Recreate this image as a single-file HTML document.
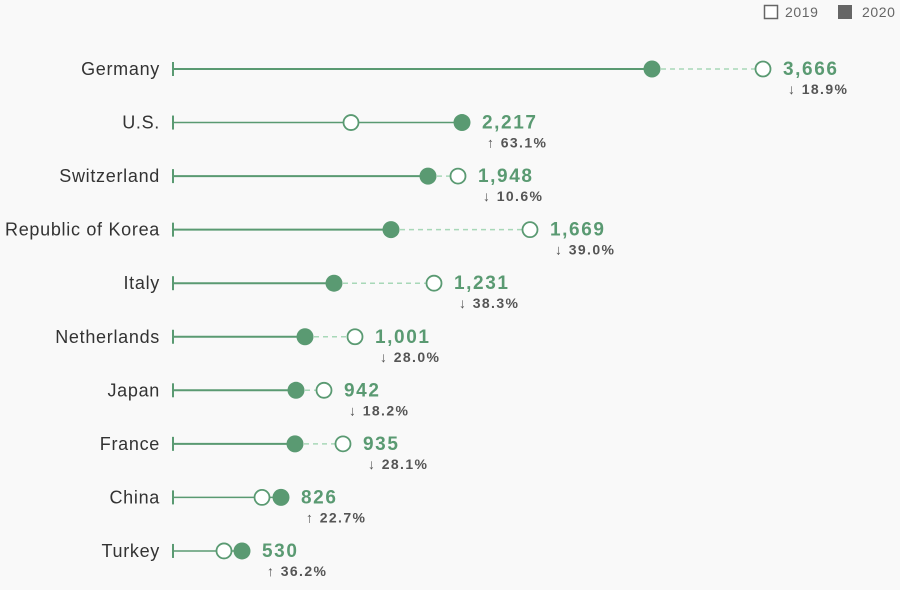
<!DOCTYPE html>
<html><head><meta charset="utf-8"><style>
html,body{margin:0;padding:0;background:#f9f9f9}
text{font-family:"Liberation Sans",Arial,sans-serif}
</style></head><body>
<svg width="900" height="585" viewBox="0 0 900 585" xmlns="http://www.w3.org/2000/svg">
<rect width="900" height="585" fill="#f9f9f9"/>
<rect x="764.5" y="5.5" width="13" height="13" fill="#fff" stroke="#666" stroke-width="1.5"/>
<text x="785" y="17" font-size="14" fill="#666" letter-spacing="0.6">2019</text>
<rect x="838" y="5" width="14" height="14" fill="#666"/>
<text x="862" y="17" font-size="14" fill="#666" letter-spacing="0.6">2020</text>
<g id="rows"></g>
</svg>
<script>
var d=[["Germany",652,763,"3,666","↓ 18.9%"],["U.S.",462,351,"2,217","↑ 63.1%"],["Switzerland",428,458,"1,948","↓ 10.6%"],["Republic of Korea",391,530,"1,669","↓ 39.0%"],["Italy",334,434,"1,231","↓ 38.3%"],["Netherlands",305,355,"1,001","↓ 28.0%"],["Japan",296,324,"942","↓ 18.2%"],["France",295,343,"935","↓ 28.1%"],["China",281,262,"826","↑ 22.7%"],["Turkey",242,224,"530","↑ 36.2%"]];
var g=document.getElementById('rows'),s='';
d.forEach(function(r,i){
var y=69+i*53.55,f=r[1],o=r[2],mx=Math.max(f,o);
s+='<text x="160" y="'+(y+6)+'" font-size="18" fill="#333" text-anchor="end" letter-spacing="0.7">'+r[0]+'</text>';
s+='<line x1="173" y1="'+(y-7)+'" x2="173" y2="'+(y+7)+'" stroke="#5a9a72" stroke-width="2"/>';
s+='<line x1="173" y1="'+y+'" x2="'+f+'" y2="'+y+'" stroke="#5a9a72" stroke-width="'+(o>f?2:1.5)+'"/>';
if(o>f) s+='<line x1="'+f+'" y1="'+y+'" x2="'+o+'" y2="'+y+'" stroke="#a8d8b8" stroke-width="1.5" stroke-dasharray="5,4"/>';
s+='<circle cx="'+o+'" cy="'+y+'" r="7.5" fill="#fff" stroke="#5a9a72" stroke-width="1.8"/>';
s+='<circle cx="'+f+'" cy="'+y+'" r="8.5" fill="#5a9a72"/>';
s+='<text x="'+(mx+20)+'" y="'+(y+6)+'" font-size="19" font-weight="bold" fill="#5a9a72" letter-spacing="1.6">'+r[3]+'</text>';
s+='<text x="'+(mx+25)+'" y="'+(y+25)+'" font-size="14" font-weight="bold" fill="#555" letter-spacing="1.4">'+r[4]+'</text>';
});
g.innerHTML=s;
</script>
</body></html>
